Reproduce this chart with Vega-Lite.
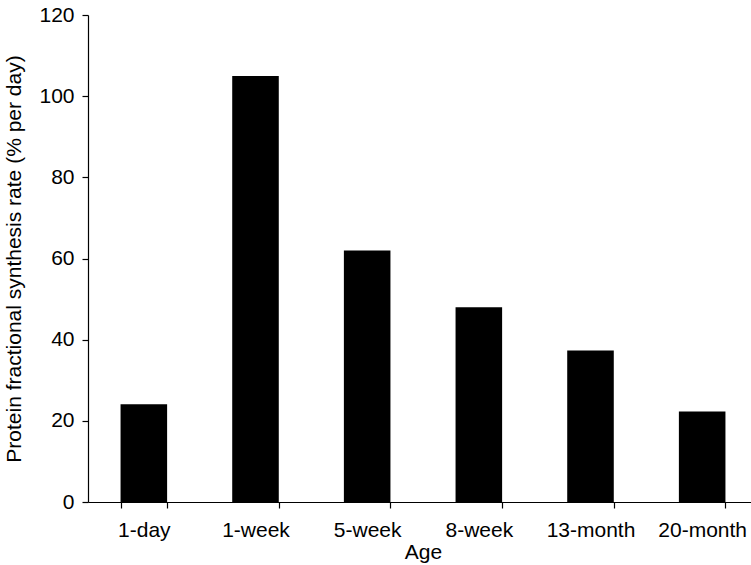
{
  "$schema": "https://vega.github.io/schema/vega-lite/v6.json",
  "width": 670,
  "height": 487,
  "autosize": "none",
  "padding": {"left": 88, "top": 15, "right": 0, "bottom": 63},
  "background": "white",
  "data": {
    "values": [
      {"age": "1-day", "rate": 24.1},
      {"age": "1-week", "rate": 105},
      {"age": "5-week", "rate": 62},
      {"age": "8-week", "rate": 48},
      {"age": "13-month", "rate": 37.3},
      {"age": "20-month", "rate": 22.3}
    ]
  },
  "mark": {"type": "bar", "color": "black"},
  "encoding": {
    "x": {
      "field": "age",
      "type": "nominal",
      "sort": null,
      "title": "Age",
      "scale": {"paddingInner": 0.583, "paddingOuter": 0.2915},
      "axis": {
        "labelAngle": 0,
        "tickBand": "extent",
        "tickSize": 6,
        "labelPadding": 11,
        "titlePadding": 1
      }
    },
    "y": {
      "field": "rate",
      "type": "quantitative",
      "title": "Protein fractional synthesis rate (% per day)",
      "scale": {"domain": [0, 120], "nice": false},
      "axis": {
        "values": [0, 20, 40, 60, 80, 100, 120],
        "grid": false,
        "tickSize": 6,
        "labelPadding": 8,
        "titlePadding": 14
      }
    }
  },
  "config": {
    "view": {"stroke": null},
    "font": "Liberation Sans",
    "axis": {
      "domainColor": "black",
      "tickColor": "black",
      "labelColor": "black",
      "titleColor": "black",
      "labelFont": "Liberation Sans",
      "titleFont": "Liberation Sans",
      "labelFontSize": 21,
      "titleFontSize": 21,
      "titleFontWeight": "normal",
      "domainWidth": 1.2,
      "tickWidth": 1.2
    }
  }
}
